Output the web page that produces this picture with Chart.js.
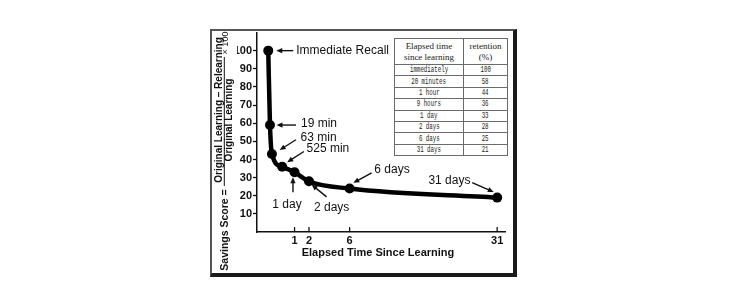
<!DOCTYPE html>
<html>
<head>
<meta charset="utf-8">
<script src="https://cdn.jsdelivr.net/npm/chart.js@4.4.1/dist/chart.umd.min.js"></script>
<style>
  html, body { margin: 0; padding: 0; background: #fff; }
  body { width: 750px; height: 296px; position: relative; overflow: hidden; }
  #frame {
    position: absolute; left: 210px; top: 29px; width: 301px; height: 242px;
    border-style: solid; border-width: 2px 4px 4px 2px;
    border-color: #555 #1a1a1a #1a1a1a #555;
  }
  #curve { position: absolute; left: 0; top: 0; }
  #retention {
    position: absolute; left: 394px; top: 38px; width: 113px;
    border-collapse: collapse; table-layout: fixed; background: #fff; color: #222;
  }
  #retention th, #retention td { border: 1px solid #6a6a6a; padding: 0; text-align: center; white-space: nowrap; }
  #retention th { font: 9px/10.5px "Liberation Serif", "Times New Roman", serif; font-weight: normal; height: 25px; }
  #retention td { font: 8.5px/10px "Liberation Mono", "Courier New", monospace; height: 10.4px; }
  #retention td span { display: inline-block; transform: scaleX(0.68); }
</style>
</head>
<body>
<div id="frame"></div>
<canvas id="curve" width="750" height="296"></canvas>
<table id="retention">
  <colgroup><col style="width:69px"><col style="width:44px"></colgroup>
  <thead><tr><th>Elapsed time<br>since learning</th><th>retention<br>(%)</th></tr></thead>
  <tbody></tbody>
</table>
<script>
/* DATA */
// elapsed time in days for each plotted point
const pointLabels = ["Immediate Recall", "19 min", "63 min", "525 min", "1 day", "2 days", "6 days", "31 days"];
const elapsedDays = [0, 19 / 1440, 63 / 1440, 525 / 1440, 1, 2, 6, 31];
const savingsScore = [100, 59, 43, 36, 33, 28, 24, 19];
const xTicks = [1, 2, 6, 31];
const yTicks = [10, 20, 30, 40, 50, 60, 70, 80, 90, 100];

// table in the corner
const tableTimes = ["immediately", "20 minutes", "1 hour", "9 hours", "1 day", "2 days", "6 days", "31 days"];
const tableRetention = [100, 58, 44, 36, 33, 28, 25, 21];

const tbody = document.querySelector("#retention tbody");
tableTimes.forEach((t, i) => {
  const tr = document.createElement("tr");
  tr.innerHTML = "<td><span>" + t + "</span></td><td><span>" + tableRetention[i] + "</span></td>";
  tbody.appendChild(tr);
});

/* POWER SCALE - the original time axis is squeezed, roughly t^0.63 */
const P = 0.63;
const pw = (v) => Math.sign(v) * Math.pow(Math.abs(v), P);

class PowerScale extends Chart.LinearScale {
  getPixelForValue(value) {
    const a = pw(this.min), b = pw(this.max);
    return this.getPixelForDecimal((pw(value) - a) / (b - a));
  }
  getValueForPixel(pixel) {
    const a = pw(this.min), b = pw(this.max);
    const t = a + this.getDecimalForPixel(pixel) * (b - a);
    return Math.sign(t) * Math.pow(Math.abs(t), 1 / P);
  }
}
PowerScale.id = "power";
PowerScale.defaults = Chart.LinearScale.defaults;
Chart.register(PowerScale);

const FONT = '"Liberation Sans", Arial, Helvetica, sans-serif';

// callouts: text offset and arrow (tail -> head) relative to the point
const notes = [
  { i: 0, dx: 28, dy: 0, align: "left", from: [25, 0], to: [8, 0] },
  { i: 1, dx: 31, dy: -1, align: "left", from: [26, 0], to: [6.5, 0] },
  { i: 2, dx: 28.7, dy: -16.6, align: "left", from: [24, -14.3], to: [7.7, -4] },
  { i: 3, dx: 24.4, dy: -18.3, align: "left", from: [21.7, -15.3], to: [5, -4.6] },
  { i: 4, dx: -7.6, dy: 32.3, align: "center", from: [-1.6, 20], to: [-1.6, 5] },
  { i: 5, dx: 5, dy: 26, align: "left", from: [17.6, 15.6], to: [2.6, 3.3] },
  { i: 6, dx: 24.7, dy: -19, align: "left", from: [22, -15.7], to: [3.7, -5.7] },
  { i: 7, dx: -26.7, dy: -16.6, align: "right", from: [-25, -15], to: [-3.4, -5.6] },
];

function arrow(ctx, x1, y1, x2, y2) {
  const ang = Math.atan2(y2 - y1, x2 - x1);
  const len = 6, w = 2.6;
  const c = Math.cos(ang), s = Math.sin(ang);
  ctx.beginPath();
  ctx.moveTo(x1, y1);
  ctx.lineTo(x2 - c * len * 0.8, y2 - s * len * 0.8);
  ctx.stroke();
  ctx.beginPath();
  ctx.moveTo(x2, y2);
  ctx.lineTo(x2 - len * c + w * s, y2 - len * s - w * c);
  ctx.lineTo(x2 - len * c - w * s, y2 - len * s + w * c);
  ctx.closePath();
  ctx.fill();
}

function rotText(ctx, text, x, y, font) {
  ctx.save();
  ctx.translate(x, y);
  ctx.rotate(-Math.PI / 2);
  ctx.font = font;
  ctx.fillText(text, 0, 0);
  ctx.restore();
}

const decorPlugin = {
  id: "decor",
  afterDatasetsDraw(chart) {
    const ctx = chart.ctx;
    const area = chart.chartArea;
    const xs = chart.scales.x;
    ctx.save();
    ctx.strokeStyle = "#111";
    ctx.fillStyle = "#111";

    // x ticks point up into the plot
    ctx.lineWidth = 1.3;
    xTicks.forEach((v) => {
      const px = xs.getPixelForValue(v);
      ctx.beginPath();
      ctx.moveTo(px, area.bottom);
      ctx.lineTo(px, area.bottom - 5);
      ctx.stroke();
    });

    // callouts
    const meta = chart.getDatasetMeta(0);
    ctx.font = "12px " + FONT;
    ctx.textBaseline = "middle";
    ctx.lineWidth = 1.4;
    notes.forEach((n) => {
      const pt = meta.data[n.i];
      ctx.textAlign = n.align;
      ctx.fillText(pointLabels[n.i], pt.x + n.dx, pt.y + n.dy);
      arrow(ctx, pt.x + n.from[0], pt.y + n.from[1], pt.x + n.to[0], pt.y + n.to[1]);
    });

    // x title
    ctx.textAlign = "center";
    ctx.font = "bold 11px " + FONT;
    ctx.fillText("Elapsed Time Since Learning", (area.left + area.right) / 2 - 3, area.bottom + 21);

    // y title as a fraction
    const L = area.left;
    rotText(ctx, "Savings Score =", L - 31.5, 230, "bold 10.5px " + FONT);
    rotText(ctx, "Original Learning \u2013 Relearning", L - 37.5, 110, "bold 10px " + FONT);
    rotText(ctx, "Original Learning", L - 28, 120, "bold 10px " + FONT);
    rotText(ctx, "\u00d7 100", L - 31, 43, "9px " + FONT);
    ctx.lineWidth = 1;
    ctx.beginPath();
    ctx.moveTo(L - 32.7, 186);
    ctx.lineTo(L - 32.7, 57);
    ctx.stroke();
    ctx.restore();
  },
};

new Chart(document.getElementById("curve"), {
  type: "line",
  data: {
    labels: pointLabels,
    datasets: [
      {
        data: elapsedDays.map((d, i) => ({ x: d, y: savingsScore[i] })),
        borderColor: "#000",
        backgroundColor: "#000",
        borderWidth: 4.5,
        cubicInterpolationMode: "monotone",
        pointRadius: 5,
        pointBackgroundColor: "#000",
        pointBorderWidth: 0,
      },
    ],
  },
  options: {
    responsive: false,
    animation: false,
    devicePixelRatio: 1,
    layout: { padding: { left: 237, right: 245, top: 32.5, bottom: 45.9 } },
    plugins: { legend: { display: false }, tooltip: { enabled: false } },
    scales: {
      x: {
        type: "power",
        min: -0.26,
        max: 32.7,
        afterBuildTicks: (scale) => { scale.ticks = xTicks.map((v) => ({ value: v })); },
        afterFit: (scale) => { scale.height = 18; },
        grid: { display: true, drawOnChartArea: false, drawTicks: false },
        border: { display: true, color: "#111", width: 1.5 },
        ticks: { color: "#111", padding: 2, font: { size: 11, weight: "bold", family: FONT }, maxRotation: 0 },
      },
      y: {
        min: 0,
        max: 110,
        afterBuildTicks: (scale) => { scale.ticks = yTicks.map((v) => ({ value: v })); },
        afterFit: (scale) => { scale.width = 20; },
        grid: { drawOnChartArea: false, tickLength: 4, color: "#111", tickWidth: 1.3 },
        border: { display: true, color: "#111", width: 1.5 },
        ticks: { color: "#111", padding: 1, font: { size: 11, weight: "bold", family: FONT } },
      },
    },
  },
  plugins: [decorPlugin],
});
</script>
</body>
</html>
